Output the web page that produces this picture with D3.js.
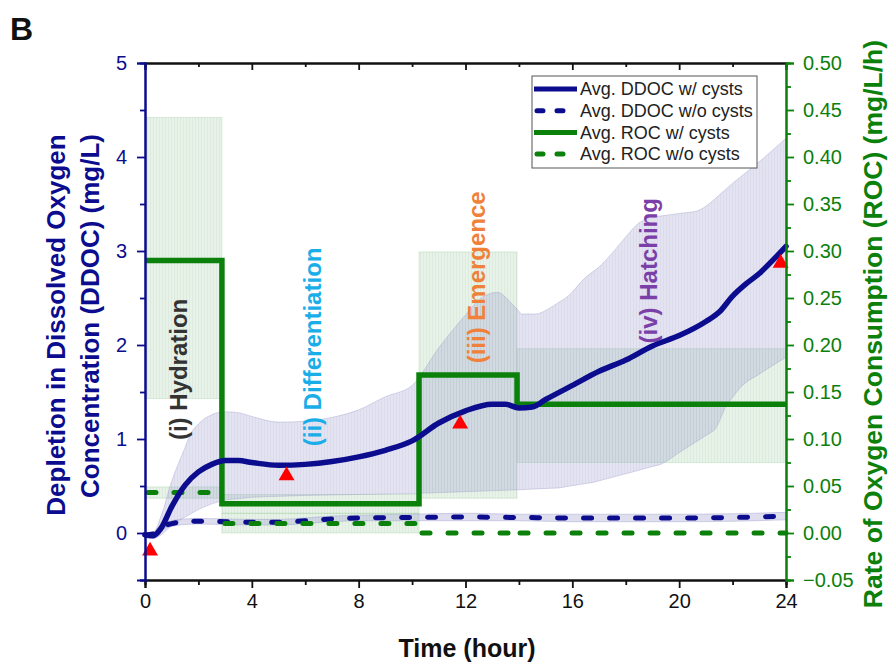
<!DOCTYPE html>
<html><head><meta charset="utf-8">
<script src="https://cdn.jsdelivr.net/npm/d3@7"></script>
<style>body{margin:0;background:#fff}svg{display:block;font-family:"Liberation Sans",Arial,sans-serif}</style>
</head><body><svg id="c" width="894" height="665"></svg>
<script>
// ---- data ----
const ddocT     = [0,0.3,0.6,1.0,1.5,2.0,2.5,3.0,3.5,4.0,5.0,6.0,7.0,8.0,9.0,10.0,11.0,12.0,13.0,13.5,14.0,14.5,15.0,16.0,17.0,18.0,19.0,20.0,21.0,21.5,22.0,22.5,23.0,23.5,24.0];
const ddocWith  = [-0.02,-0.03,0.05,0.28,0.51,0.65,0.73,0.77,0.77,0.75,0.72,0.73,0.76,0.81,0.88,0.98,1.17,1.30,1.37,1.37,1.33,1.34,1.42,1.57,1.72,1.84,1.99,2.10,2.25,2.35,2.52,2.65,2.76,2.90,3.05];
const bandHiT   = [0,0.3,0.6,1.0,1.5,1.7,2.0,2.3,2.6,3.0,3.5,4.0,5.0,6.0,7.0,8.0,9.0,10.0,11.0,12.0,12.5,13.2,13.7,14.1,14.6,15.2,15.8,16.5,17.0,17.5,18.0,18.5,19.0,20.0,20.6,21.2,22.0,23.0,24.0];
const bandHi    = [0.0,0.0,0.18,0.55,0.91,1.05,1.16,1.23,1.27,1.29,1.28,1.24,1.18,1.19,1.23,1.31,1.45,1.57,1.97,2.32,2.48,2.56,2.45,2.33,2.33,2.40,2.51,2.72,2.83,2.98,3.15,3.30,3.36,3.40,3.42,3.52,3.72,3.95,4.20];
const bandLoT   = [0,0.3,0.6,1.0,1.5,2.0,2.5,3.0,4.0,5.0,6.0,8.0,10.0,12.0,14.0,15.5,16.8,18.0,19.3,20.3,21.3,21.8,22.3,23.0,24.0];
const bandLo    = [-0.05,-0.06,-0.02,0.08,0.17,0.25,0.31,0.35,0.38,0.39,0.40,0.41,0.42,0.44,0.46,0.48,0.54,0.63,0.73,0.91,1.09,1.37,1.55,1.69,1.87];

const ddocNoT   = [0,0.3,0.6,1.0,1.5,2.0,3.0,4.0,5.0,6.0,7.0,8.0,10.0,12.0,14.0,16.0,18.0,20.0,22.0,24.0];
const ddocNo    = [-0.02,-0.01,0.06,0.10,0.12,0.125,0.12,0.115,0.115,0.13,0.15,0.16,0.165,0.17,0.165,0.16,0.16,0.16,0.165,0.18];
const ddocNoHi  = [0.0,0.01,0.09,0.13,0.15,0.155,0.15,0.145,0.145,0.16,0.18,0.19,0.20,0.21,0.20,0.20,0.20,0.20,0.205,0.22];
const ddocNoLo  = [-0.04,-0.03,0.03,0.07,0.09,0.095,0.09,0.085,0.085,0.10,0.12,0.13,0.13,0.13,0.13,0.12,0.12,0.12,0.125,0.14];

const stageEdges = [0,2.88,10.26,13.93,24];
const rocWith    = [0.29,0.031,0.168,0.137];
const rocWithLo  = [0.143,0.021,0.037,0.075];
const rocWithHi  = [0.442,0.041,0.299,0.196];
const rocNo      = [0.043,0.010,0.0,0.0];
const rocNoLo    = [0.037,0.0,0.0,0.0];
const rocNoHi    = [0.049,0.021,0.0,0.0];

const markerT = [0.19,5.3,11.8,23.8];
const markerV = [-0.19,0.61,1.16,2.87];

const stageLabels = ["(i) Hydration","(ii) Differentiation","(iii) Emergence","(iv) Hatching"];
const stageColors = ["#333333","#1aaee8","#f0813a","#7b3fa8"];
const stageLabelT = [1.24,6.29,12.42,18.84];
const stageLabelV = [1.74,1.98,2.72,2.79];

const xTicks  = [0,4,8,12,16,20,24];
const yLTicks = [0,1,2,3,4,5];
const yRTicks = [-0.05,0,0.05,0.10,0.15,0.20,0.25,0.30,0.35,0.40,0.45,0.50];
const legendLabels = ["Avg. DDOC w/ cysts","Avg. DDOC w/o cysts","Avg. ROC w/ cysts","Avg. ROC w/o cysts"];

// ---- drawing ----
const BLUE="#0c0c8e", GREEN="#0b800b";
const svg=d3.select("#c");
const x=d3.scaleLinear([0,24],[145,786]);
const yL=d3.scaleLinear([-0.5,5],[580,63]);
const yR=d3.scaleLinear([-0.05,0.5],[580,63]);

const defs=svg.append("defs");
const pat=defs.append("pattern").attr("id","vh").attr("width",3).attr("height",10).attr("patternUnits","userSpaceOnUse");
pat.append("rect").attr("width",1).attr("height",10).attr("fill","#7070a0").attr("fill-opacity",0.07);

// green bands (ROC)
const gb=svg.append("g");
function greenRect(x0,x1,hi,lo){
  gb.append("rect").attr("x",x(x0)).attr("width",x(x1)-x(x0)).attr("y",yR(hi)).attr("height",yR(lo)-yR(hi))
    .attr("fill","rgb(140,200,140)").attr("fill-opacity",0.22)
    .attr("stroke","rgb(140,200,140)").attr("stroke-opacity",0.35).attr("stroke-width",0.8);
  gb.append("rect").attr("x",x(x0)).attr("width",x(x1)-x(x0)).attr("y",yR(hi)).attr("height",yR(lo)-yR(hi)).attr("fill","url(#vh)");
}
rocWith.forEach((v,i)=>{
  greenRect(stageEdges[i],stageEdges[i+1],rocWithHi[i],rocWithLo[i]);
  if(rocNoHi[i]>rocNoLo[i]) greenRect(stageEdges[i],stageEdges[i+1],rocNoHi[i],rocNoLo[i]);
});

// lavender bands (DDOC)
const interp=(ts,vs)=>t=>{let i=d3.bisectRight(ts,t)-1;if(i<0)i=0;if(i>=ts.length-1)return vs[vs.length-1];const f=(t-ts[i])/(ts[i+1]-ts[i]);return vs[i]+f*(vs[i+1]-vs[i]);};
const hiF=interp(bandHiT,bandHi), loF=interp(bandLoT,bandLo);
const allT=Array.from(new Set([...bandHiT,...bandLoT])).sort((a,b)=>a-b);
const bandPts=allT.map(t=>({t,hi:hiF(t),lo:loF(t)}));
const area=d3.area().x(d=>x(d.t)).y0(d=>yL(d.lo)).y1(d=>yL(d.hi)).curve(d3.curveMonotoneX);
svg.append("path").datum(bandPts).attr("d",area).attr("fill","rgb(160,160,210)").attr("fill-opacity",0.29)
  .attr("stroke","rgb(150,150,200)").attr("stroke-opacity",0.45).attr("stroke-width",0.8);
svg.append("path").datum(bandPts).attr("d",area).attr("fill","url(#vh)");
const bandNo=ddocNoT.map((t,i)=>({t,hi:ddocNoHi[i],lo:ddocNoLo[i]}));
svg.append("path").datum(bandNo).attr("d",area).attr("fill","rgb(160,160,210)").attr("fill-opacity",0.35)
  .attr("stroke","rgb(150,150,200)").attr("stroke-opacity",0.5).attr("stroke-width",0.8);

// phase labels
stageLabels.forEach((s,i)=>{
  svg.append("text").attr("transform",`translate(${x(stageLabelT[i])},${yL(stageLabelV[i])}) rotate(-90)`)
    .attr("text-anchor","middle").attr("dy","0.35em").attr("font-size",24).attr("font-weight","bold")
    .attr("fill",stageColors[i]).text(s);
});

// lines
const line=d3.line().x(d=>x(d[0])).y(d=>d[1]).curve(d3.curveMonotoneX);
svg.append("path").datum(ddocNoT.map((t,i)=>[t,yL(ddocNo[i])])).attr("d",line).attr("fill","none")
  .attr("stroke",BLUE).attr("stroke-width",5).attr("stroke-dasharray","8,18").attr("stroke-linecap","round");
rocNo.forEach((v,i)=>{
  svg.append("line").attr("x1",x(stageEdges[i])+3).attr("x2",x(stageEdges[i+1])).attr("y1",yR(v)).attr("y2",yR(v))
    .attr("stroke",GREEN).attr("stroke-width",5).attr("stroke-dasharray","8,18").attr("stroke-linecap","round");
});
const stepPts=[];rocWith.forEach((v,i)=>{stepPts.push([stageEdges[i],yR(v)]);});stepPts.push([24,yR(rocWith[rocWith.length-1])]);
svg.append("path").datum(stepPts).attr("d",d3.line().x(d=>x(d[0])).y(d=>d[1]).curve(d3.curveStepAfter))
  .attr("fill","none").attr("stroke",GREEN).attr("stroke-width",5.5);
svg.append("path").datum(ddocT.map((t,i)=>[t,yL(ddocWith[i])])).attr("d",line).attr("fill","none")
  .attr("stroke",BLUE).attr("stroke-width",5.5).attr("stroke-linecap","round");

// markers
markerT.forEach((t,i)=>{
  svg.append("path").attr("d",d3.symbol(d3.symbolTriangle,110)()).attr("transform",`translate(${x(t)},${yL(markerV[i])})`).attr("fill","#ff0000");
});

// axes
const fs=20;
const gx=svg.append("g").attr("transform","translate(0,580)").attr("color","#111")
  .call(d3.axisBottom(x).tickValues(xTicks).tickSize(8).tickPadding(6).tickFormat(d3.format("d")));
svg.append("g").attr("transform","translate(0,580)").attr("color","#111")
  .call(d3.axisBottom(x).tickValues([2,6,10,14,18,22]).tickSize(5).tickFormat(""));
gx.selectAll("text").attr("font-size",fs).attr("fill","#111");
svg.append("g").attr("transform","translate(0,63)").attr("color","#111")
  .call(d3.axisTop(x).tickValues(xTicks).tickSize(-7).tickFormat(""));
svg.append("g").attr("transform","translate(0,63)").attr("color","#111")
  .call(d3.axisTop(x).tickValues([2,6,10,14,18,22]).tickSize(-4).tickFormat(""));
const gl=svg.append("g").attr("transform","translate(145,0)").attr("color",BLUE)
  .call(d3.axisLeft(yL).tickValues(yLTicks).tickSize(8).tickPadding(10).tickFormat(d3.format("d")));
svg.append("g").attr("transform","translate(145,0)").attr("color",BLUE)
  .call(d3.axisLeft(yL).tickValues([-0.5,0.5,1.5,2.5,3.5,4.5]).tickSize(5).tickFormat(""));
gl.selectAll("text").attr("font-size",fs).attr("fill",BLUE);
const gr=svg.append("g").attr("transform","translate(786,0)").attr("color",GREEN)
  .call(d3.axisRight(yR).tickValues(yRTicks).tickSize(8).tickPadding(9).tickFormat(d3.format(".2f")));
svg.append("g").attr("transform","translate(786,0)").attr("color",GREEN)
  .call(d3.axisRight(yR).tickValues([-0.025,0.025,0.075,0.125,0.175,0.225,0.275,0.325,0.375,0.425,0.475]).tickSize(5).tickFormat(""));
gr.selectAll("text").attr("font-size",fs).attr("fill",GREEN);
svg.selectAll(".domain").attr("stroke-width",2);
svg.selectAll(".tick line").attr("stroke-width",1.8);

// titles
svg.append("text").attr("x",10).attr("y",40).attr("font-size",32).attr("font-weight","bold").attr("fill","#111").text("B");
svg.append("text").attr("x",467).attr("y",657).attr("text-anchor","middle").attr("font-size",25).attr("font-weight","bold").attr("fill","#111").text("Time (hour)");
svg.append("text").attr("transform","translate(56,325) rotate(-90)").attr("text-anchor","middle").attr("dy","0.35em")
  .attr("font-size",26).attr("font-weight","bold").attr("fill",BLUE).text("Depletion in Dissolved Oxygen");
svg.append("text").attr("transform","translate(90,316) rotate(-90)").attr("text-anchor","middle").attr("dy","0.35em")
  .attr("font-size",26).attr("font-weight","bold").attr("fill",BLUE).text("Concentration (DDOC) (mg/L)");
svg.append("text").attr("transform","translate(873,324) rotate(-90)").attr("text-anchor","middle").attr("dy","0.35em")
  .attr("font-size",26.5).attr("font-weight","bold").attr("fill",GREEN).text("Rate of Oxygen Consumption (ROC) (mg/L/h)");

// legend
const lg=svg.append("g").attr("transform","translate(532,76)");
lg.append("rect").attr("width",225).attr("height",92).attr("fill","#fff").attr("stroke","#555").attr("stroke-width",1);
const lgColors=[BLUE,BLUE,GREEN,GREEN], lgDash=[null,"6,14",null,"6,14"];
legendLabels.forEach((s,i)=>{
  const yy=13+i*21.7;
  lg.append("line").attr("x1",lgDash[i]?5:2).attr("x2",45).attr("y1",yy).attr("y2",yy).attr("stroke",lgColors[i]).attr("stroke-width",5)
    .attr("stroke-dasharray",lgDash[i]).attr("stroke-linecap",lgDash[i]?"round":"butt");
  lg.append("text").attr("x",48).attr("y",yy).attr("dy","0.35em").attr("font-size",18).attr("fill","#222").text(s);
});
</script></body></html>
